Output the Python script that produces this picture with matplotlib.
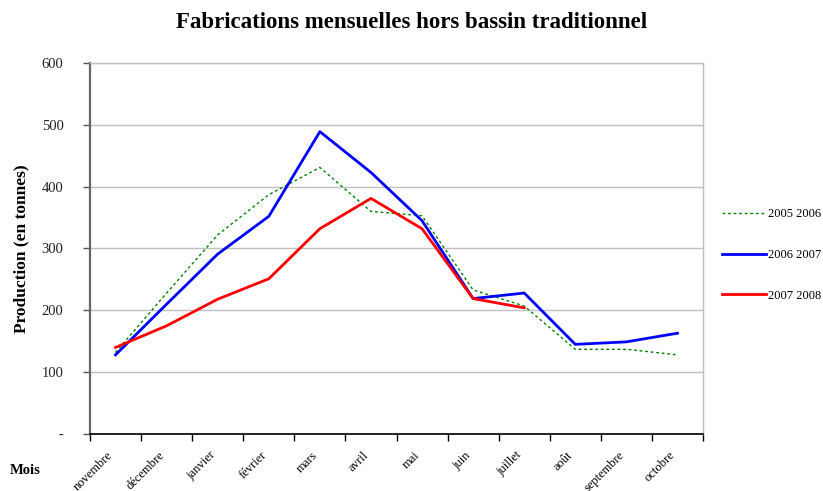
import matplotlib
matplotlib.use("Agg")
import matplotlib.pyplot as plt
from matplotlib.ticker import FixedLocator, FuncFormatter

plt.rcParams['font.family'] = ['Liberation Serif', 'DejaVu Serif']

mois = ["novembre", "décembre", "janvier", "février", "mars", "avril",
        "mai", "juin", "juillet", "août", "septembre", "octobre"]

# Production (tonnes) per month for each campaign
prod_2005_2006 = [132, 228, 322, 387, 431, 360, 353, 233, 207, 137, 137, 128]
prod_2006_2007 = [128, 210, 291, 352, 489, 423, 345, 219, 228, 145, 149, 163]
prod_2007_2008 = [140, 175, 218, 251, 332, 381, 332, 219, 204]

fig = plt.figure(figsize=(8.23, 4.91), dpi=100)
ax = fig.add_axes([90 / 823, 57 / 491, 613 / 823, 371 / 491])

x = list(range(len(mois)))
ax.plot(x, prod_2005_2006, color="#008000", lw=1.0, dashes=(2, 2), label="2005 2006")
ax.plot(x, prod_2006_2007, color="#0000ff", lw=2.0, label="2006 2007")
ax.plot(x[:len(prod_2007_2008)], prod_2007_2008, color="#ff0000", lw=2.0, label="2007 2008")

ax.set_xlim(-0.5, len(mois) - 0.5)
ax.set_ylim(0, 600)

# y axis
ax.set_yticks(range(0, 601, 100))
ax.yaxis.set_major_formatter(FuncFormatter(lambda v, p: "-" if v == 0 else f"{int(v)}"))
ax.tick_params(axis="y", direction="out", length=5, width=1, color="#555555",
               pad=14, labelsize=10.5, labelcolor="#222222")
ax.grid(axis="y", color="#c0c0c0", lw=1)
ax.set_axisbelow(True)

# x axis: tick marks between months, labels centred on months
ax.xaxis.set_major_locator(FixedLocator([i - 0.5 for i in range(len(mois) + 1)]))
ax.xaxis.set_minor_locator(FixedLocator(x))
ax.set_xticklabels([], minor=False)
ax.set_xticklabels(mois, minor=True, rotation=45, ha="right", va="top",
                   fontsize=9)
ax.tick_params(axis="x", which="major", direction="out", length=5, width=1, color="black")
ax.tick_params(axis="x", which="minor", length=0, pad=11)

for side in ("top", "right"):
    ax.spines[side].set_color("#c0c0c0")
    ax.spines[side].set_linewidth(1)
ax.spines["left"].set_color("#666666")
ax.spines["left"].set_linewidth(1.6)
ax.spines["bottom"].set_color("black")
ax.spines["bottom"].set_linewidth(1.2)

ax.set_ylabel("Production (en tonnes)", fontsize=12.5, fontweight="bold", labelpad=9)

fig.text(0.5, 1 - 22 / 491, "Fabrications mensuelles hors bassin traditionnel",
         ha="center", va="center", fontsize=16.5, fontweight="bold")
fig.text(25 / 823, 1 - 470 / 491, "Mois", ha="center", va="center",
         fontsize=10.5, fontweight="bold")

fig.legend(loc="center left", bbox_to_anchor=(722 / 823, 1 - 255 / 491),
           frameon=False, borderpad=0, borderaxespad=0, fontsize=9,
           handlelength=3.5, handletextpad=0.15, labelspacing=2.3)

fig.savefig("out.png", dpi=100)
